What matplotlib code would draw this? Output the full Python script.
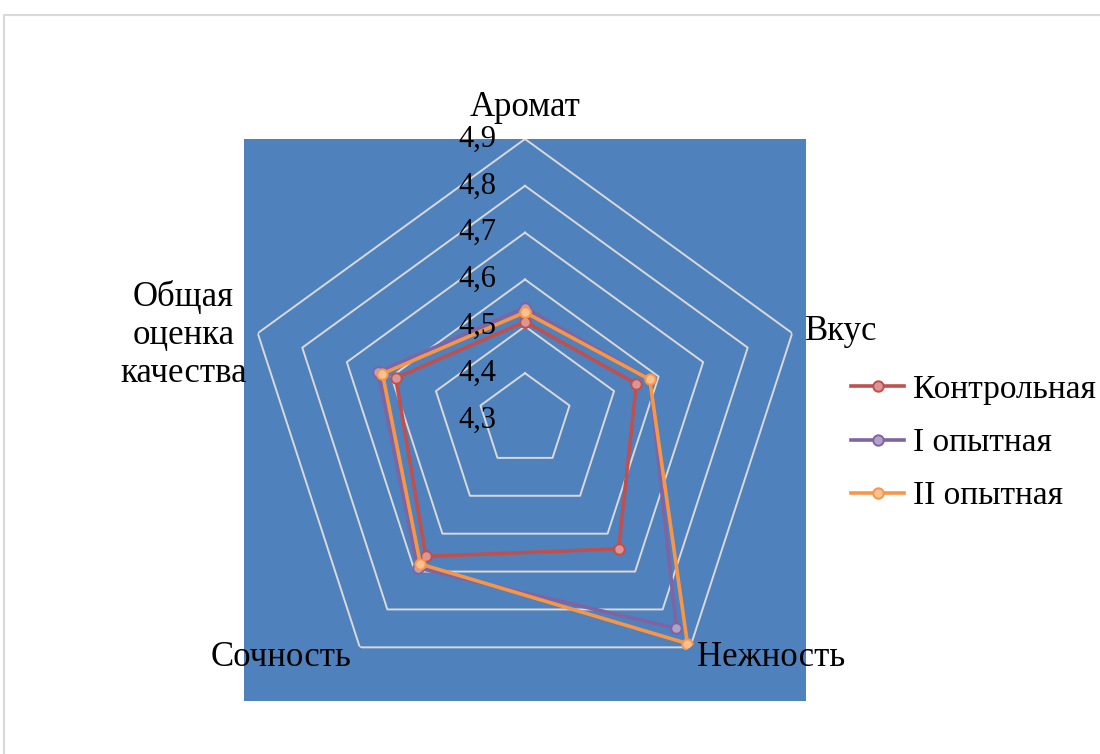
import numpy as np
import matplotlib.pyplot as plt
from matplotlib.patches import Rectangle

plt.rcParams['font.family'] = ['Liberation Serif', 'DejaVu Serif']

# Sensory scores per attribute
categories = ['Аромат', 'Вкус', 'Нежность', 'Сочность', 'Общая\nоценка\nкачества']
control = [4.51, 4.55, 4.64, 4.66, 4.59]
exp_1 = [4.54, 4.58, 4.85, 4.69, 4.63]
exp_2 = [4.53, 4.58, 4.89, 4.68, 4.62]
levels = [4.3, 4.4, 4.5, 4.6, 4.7, 4.8, 4.9]
level_labels = ['4,3', '4,4', '4,5', '4,6', '4,7', '4,8', '4,9']

series = [
    ('Контрольная', control, '#C0504D', '#D99694'),
    ('I опытная', exp_1, '#8064A2', '#B3A2C7'),
    ('II опытная', exp_2, '#F79646', '#FAC090'),
]

W, H = 1100, 754
fig = plt.figure(figsize=(W / 100, H / 100), dpi=100)

# chart area border (top and left edges visible)
fig.add_artist(Rectangle((4 / W, -0.5), 2, 0.5 + (H - 15) / H, transform=fig.transFigure,
                         fill=False, edgecolor='#D9D9D9', lw=1.5))

left, bottom, size = 244, 53, 562
rect = [left / W, bottom / H, size / W, size / H]

bg = fig.add_axes(rect)
bg.set_facecolor('#4F81BD')
bg.set_xticks([])
bg.set_yticks([])
for s in bg.spines.values():
    s.set_visible(False)

ax = fig.add_axes(rect, projection='polar')
ax.patch.set_alpha(0)
ax.set_theta_offset(np.pi / 2)
ax.set_theta_direction(-1)
ax.set_ylim(levels[0], levels[-1])
ax.grid(False)
ax.spines['polar'].set_visible(False)
ax.set_xticks([])
ax.set_yticks([])

n = len(categories)
theta = np.linspace(0, 2 * np.pi, n, endpoint=False)
theta_c = np.append(theta, theta[0])

# pentagon grid rings
for lv in levels[1:]:
    ax.plot(theta_c, [lv] * (n + 1), color='#D9D9D9', lw=1.4, zorder=1)

for name, vals, col, fill in series:
    ax.plot(theta_c, vals + vals[:1], color=col, lw=2.6, marker='o', ms=7.5,
            markerfacecolor=fill, markeredgecolor=col, markeredgewidth=1.4,
            label=name, zorder=3)

# value labels along the first axis
for lv, lab in zip(levels, level_labels):
    ax.annotate(lab, xy=(0, lv), xytext=(-29, 0), textcoords='offset pixels',
                ha='right', va='center', fontsize=22, annotation_clip=False)

# category labels around the outer ring
offsets = [((0, 32), 'center'), ((13, 2), 'left'), ((7, -10), 'left'),
           ((-8, -10), 'right'), ((-11, -2), 'right')]
for t, lab, (off, ha) in zip(theta, categories, offsets):
    ax.annotate(lab, xy=(t, levels[-1]), xytext=off, textcoords='offset pixels',
                ha=ha, va='center', multialignment='center', fontsize=25,
                annotation_clip=False, linespacing=1.2)

handles, labels = ax.get_legend_handles_labels()
fig.legend(handles, labels, loc='center left', bbox_to_anchor=(851 / W, (H - 443) / H),
           frameon=False, fontsize=24, handlelength=1.6, handletextpad=0.25,
           labelspacing=0.68, borderpad=0, borderaxespad=0)

fig.savefig('out.png', dpi=100)
